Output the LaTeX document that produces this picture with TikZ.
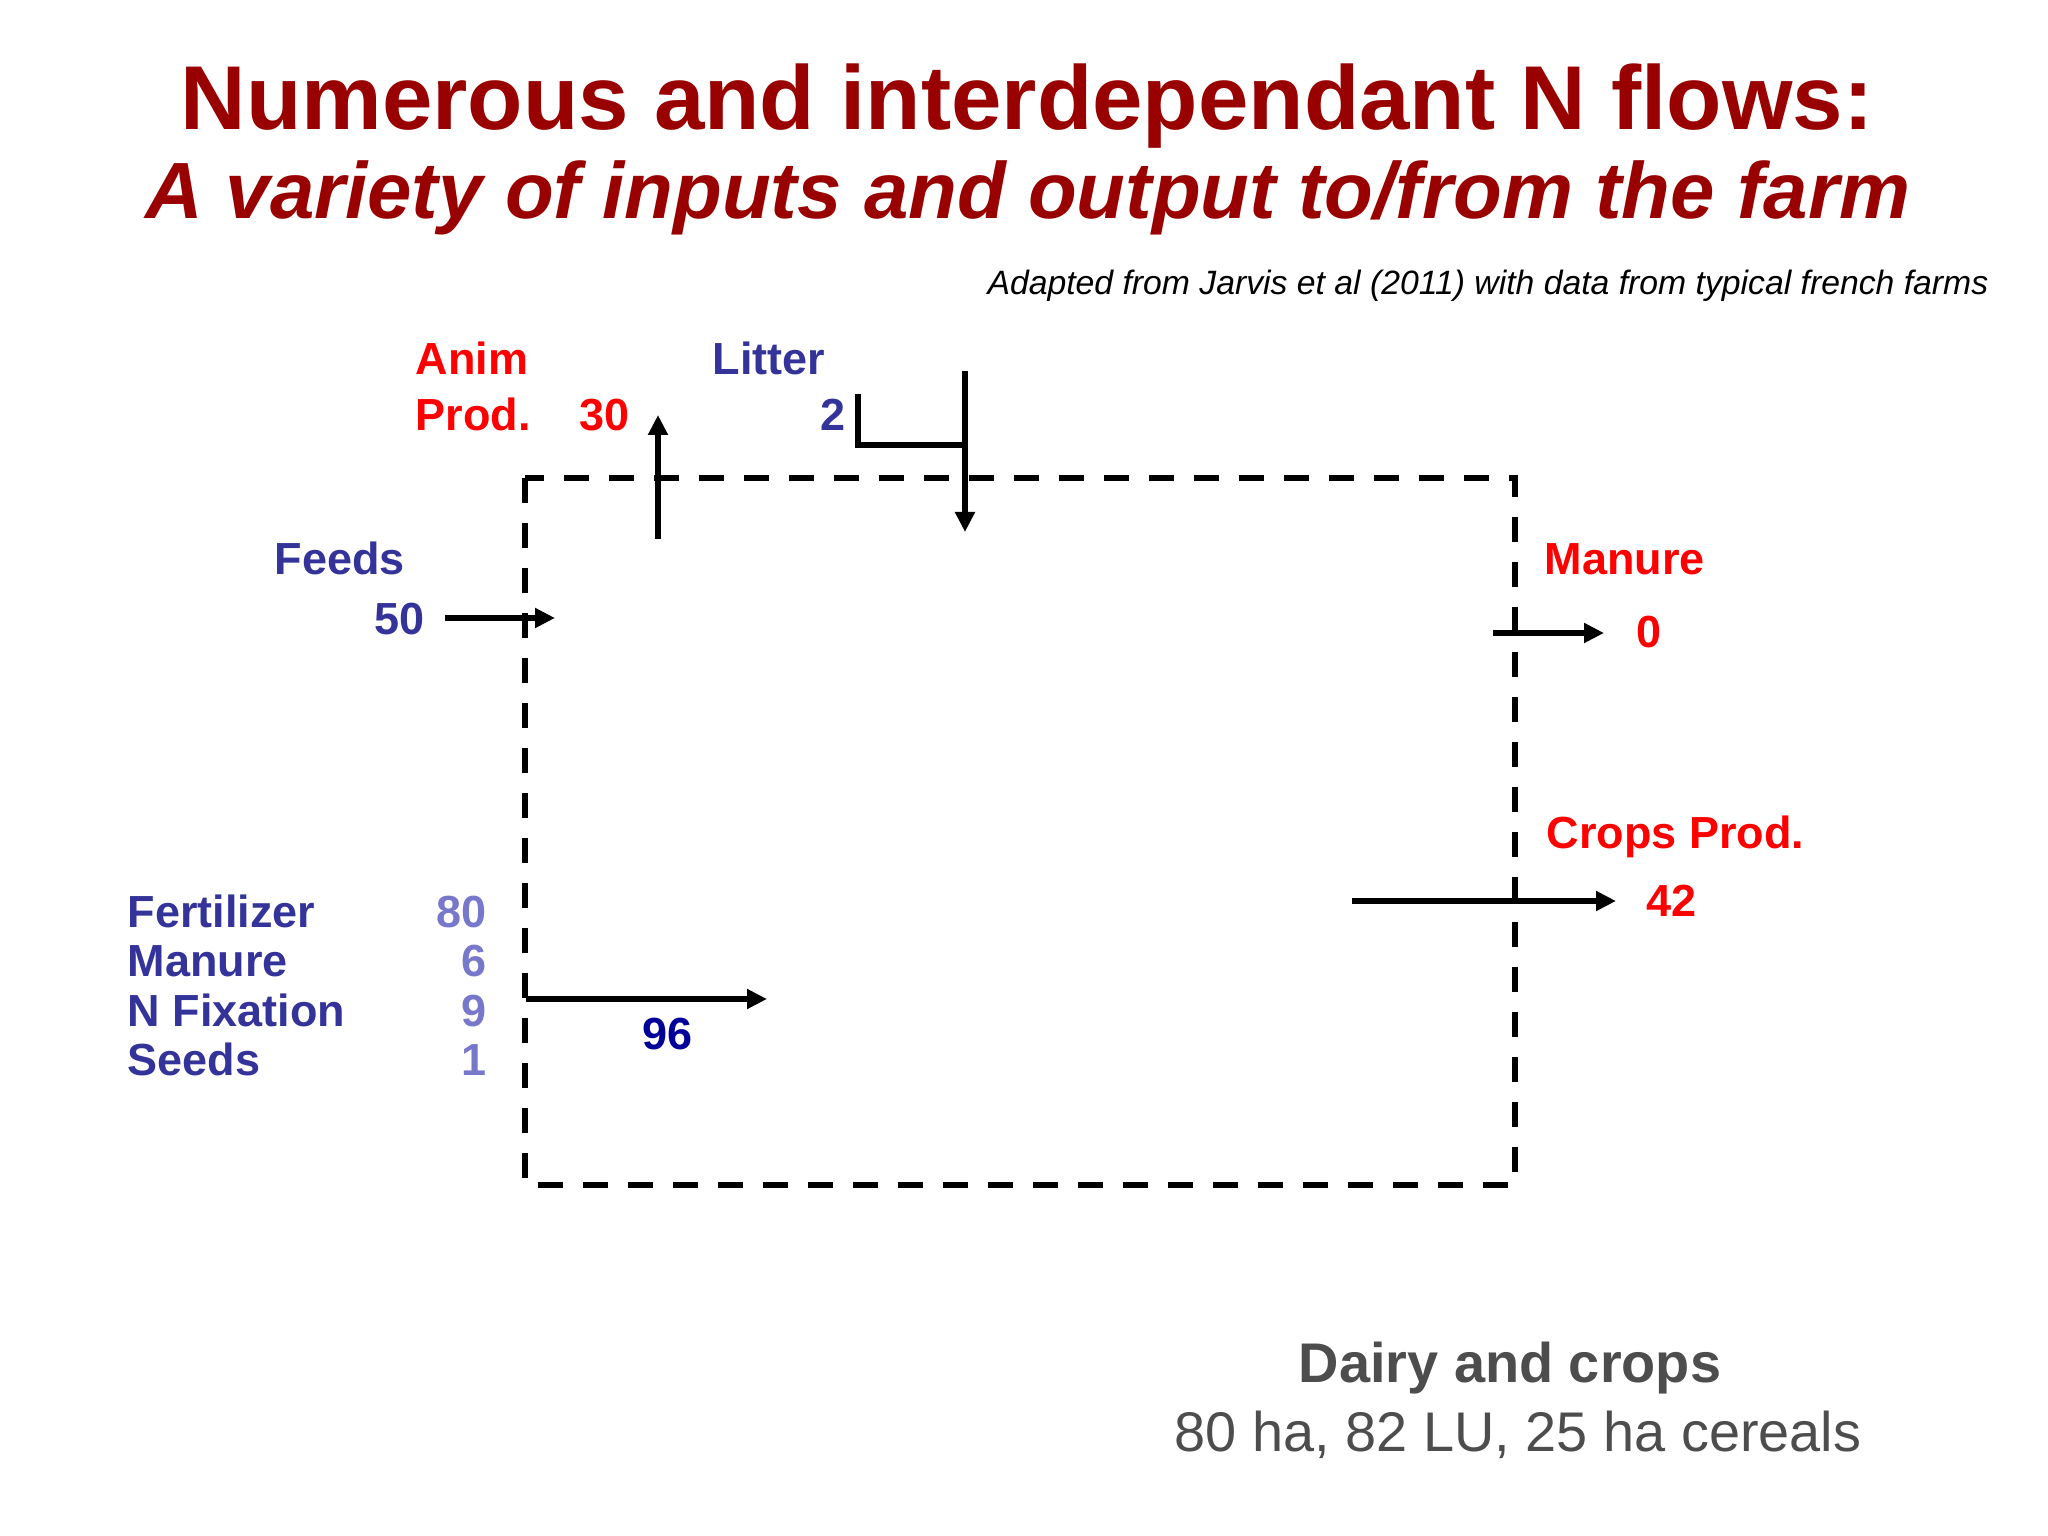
\documentclass[tikz,border=0pt]{standalone}
\usepackage{fontspec}
\setmainfont{Liberation Sans}
\usetikzlibrary{arrows.meta}
\definecolor{deepred}{HTML}{990000}
\definecolor{outred}{HTML}{FF0000}
\definecolor{inblue}{HTML}{333399}
\definecolor{lilac}{HTML}{7777CC}
\definecolor{navy}{HTML}{000099}
\definecolor{graytext}{HTML}{4D4D4D}

\begin{document}
\begin{tikzpicture}[>={Triangle[length=2mm,width=1.9mm]},
   lbl/.style={font=\bfseries\fontsize{12.8}{15}\selectfont,inner sep=0pt},
   flow/.style={->,line width=1.8pt},
   farm/.style={line width=1.8pt,dash pattern=on 2.5mm off 2mm}]
  \useasboundingbox (0,0) rectangle (20.48,-15.36);
  % titles
  \node[font=\bfseries\fontsize{25.8}{30}\selectfont,text=deepred,anchor=base,inner sep=0pt] (t1) at (10.27,-1.30) {Numerous and interdependant N flows:};
  \node[font=\bfseries\itshape\fontsize{22.7}{26}\selectfont,text=deepred,anchor=base,inner sep=0pt] (t2) at (10.28,-2.19) {A variety of inputs and output to/from the farm};
  \node[font=\itshape\fontsize{9.6}{11}\selectfont,anchor=base east,inner sep=0pt] (src) at (19.89,-2.95) {Adapted from Jarvis et al (2011) with data from typical french farms};
  % farm boundary
  \draw[farm] (5.25,-4.78) rectangle (15.15,-11.85);
  % end points
  \coordinate (animA) at (6.58,-5.39); \coordinate (animB) at (6.58,-4.15);
  \coordinate (litA) at (8.58,-3.94); \coordinate (litC) at (9.65,-4.45);
  \coordinate (litD) at (9.65,-3.71); \coordinate (litE) at (9.65,-5.32);
  \coordinate (feedA) at (4.45,-6.18); \coordinate (feedB) at (5.55,-6.18);
  \coordinate (manA) at (14.93,-6.33); \coordinate (manB) at (16.04,-6.33);
  \coordinate (cropA) at (13.52,-9.01); \coordinate (cropB) at (16.16,-9.01);
  \coordinate (soilA) at (5.26,-9.99); \coordinate (soilB) at (7.67,-9.99);
  % flows
  \draw[flow] (animA) -- (animB);
  \draw[line width=1.8pt] (litA) |- (litC);
  \draw[flow] (litD) -- (litE);
  \draw[flow] (feedA) -- (feedB);
  \draw[flow] (manA) -- (manB);
  \draw[flow] (cropA) -- (cropB);
  \draw[flow] (soilA) -- (soilB);
  % labels top
  \node[lbl,text=outred,anchor=base west] (anim) at (4.15,-3.75) {Anim};
  \node[lbl,text=outred,anchor=base west] (prod) at (4.15,-4.31) {Prod.};
  \node[lbl,text=outred,anchor=base] (n30) at (6.05,-4.31) {30};
  \node[lbl,text=inblue,anchor=base west] (litter) at (7.12,-3.75) {Litter};
  \node[lbl,text=inblue,anchor=base east] (n2) at (8.46,-4.31) {2};
  % labels left
  \node[lbl,text=inblue,anchor=base west] (feeds) at (2.74,-5.74) {Feeds};
  \node[lbl,text=inblue,anchor=base] (n50) at (4.00,-6.34) {50};
  \foreach \name/\val/\y in {Fertilizer/80/9.28,Manure/6/9.77,N Fixation/9/10.26,Seeds/1/10.75}{
    \node[lbl,text=inblue,anchor=base west] (in-\val) at (1.27,-\y) {\name};
    \node[lbl,text=lilac,anchor=base east] (v-\val) at (4.87,-\y) {\val};}
  \node[lbl,text=navy,anchor=base] (n96) at (6.68,-10.49) {96};
  % labels right
  \node[lbl,text=outred,anchor=base west] (manout) at (15.44,-5.74) {Manure};
  \node[lbl,text=outred,anchor=base] (n0) at (16.49,-6.48) {0};
  \node[lbl,text=outred,anchor=base west] (crops) at (15.46,-8.48) {Crops Prod.};
  \node[lbl,text=outred,anchor=base] (n42) at (16.72,-9.17) {42};
  % farm type
  \node[font=\bfseries\fontsize{15.9}{19}\selectfont,text=graytext,anchor=base,inner sep=0pt] (type) at (15.10,-13.82) {Dairy and crops};
  \node[font=\fontsize{15.9}{19}\selectfont,text=graytext,anchor=base,inner sep=0pt] (size) at (15.18,-14.51) {80 ha, 82 LU, 25 ha cereals};
\end{tikzpicture}
\end{document}
